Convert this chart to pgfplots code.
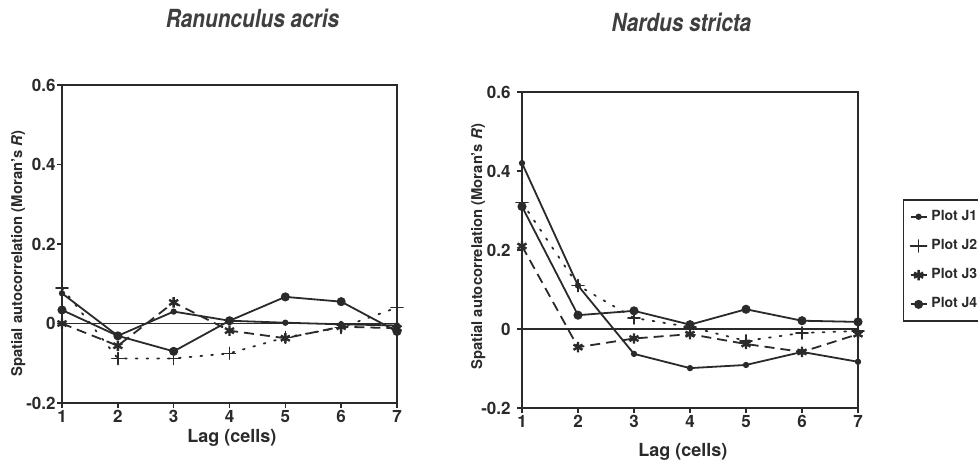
\documentclass[border=0pt]{standalone}
\usepackage{fontspec}
\setmainfont{TeX Gyre Heros}
\usepackage{graphicx}
\usepackage{pgfplots}
\pgfplotsset{compat=1.18}
\definecolor{ink}{HTML}{2A2A2A}

\pgfplotsset{
  panel/.style={
    scale only axis, anchor=south west,
    xmin=1, xmax=7, ymin=-0.2, ymax=0.6,
    xtick={1,2,3,4,5,6,7}, xticklabels={1,2,3,4,5,6,7},
    ytick={-0.2,0,0.2,0.4,0.6}, yticklabels={-0.2,0,0.2,0.4,0.6},
    tick align=outside, tick pos=left, major tick length=2.5pt,
    axis line style={ink, line width=0.9pt},
    every tick/.style={ink, line width=0.8pt},
    tick label style={font=\bfseries\fontsize{8.5}{9}\selectfont, text=ink},
    xticklabel style={inner sep=1pt},
    yticklabel style={inner sep=0.5pt},
    xlabel style={font=\bfseries\fontsize{9}{10}\selectfont, text=ink},
    ylabel style={font=\bfseries\fontsize{7.4}{8}\selectfont, text=ink},
    xlabel={Lag (cells)},
    ylabel={Spatial autocorrelation (Moran's \textit{R})},
    clip=false,
  },
  jone/.style={ink, line width=0.9pt, solid, mark=*, mark size=1.1pt},
  jtwo/.style={ink, line width=0.9pt, dash pattern=on 0.9pt off 4.5pt, line cap=round, mark=+, mark size=3pt, mark options={solid, line width=0.8pt}},
  jthree/.style={ink, line width=0.9pt, dash pattern=on 5pt off 3pt, mark=asterisk, mark size=2.6pt, mark options={solid, line width=1.2pt}},
  jfour/.style={ink, line width=0.9pt, solid, mark=*, mark size=1.8pt},
  zeroline/.style={ink, line width=0.7pt, no marks, forget plot},
}

\begin{document}
\begin{tikzpicture}
\useasboundingbox (0,0) rectangle (489pt,231pt);
\fill[white] (0,0) rectangle (489pt,231pt);
\clip (0,0) rectangle (489pt,231pt);

\node[font=\bfseries\itshape\fontsize{10.4}{12}\selectfont, text=ink!90] at (126.25pt,222pt) {\scalebox{1}[1.2]{Ranunculus acris}};
\node[font=\bfseries\itshape\fontsize{10.4}{12}\selectfont, text=ink!90] at (340.75pt,219.75pt) {\scalebox{1}[1.2]{Nardus stricta}};

% Left panel
\begin{axis}[panel, at={(31pt,29.5pt)}, width=167.5pt, height=159pt,
  xlabel style={at={(axis description cs:0.507,-0.11)}, anchor=center},
  ylabel style={at={(axis description cs:-0.131,0.47)}, anchor=center},
]
\addplot[zeroline] coordinates {(1,0) (7,0)};
\addplot[jone] coordinates {(1,0.076) (2,-0.031) (3,0.030) (4,0.007) (5,0.002) (6,-0.002) (7,-0.005)};
\addplot[jtwo] coordinates {(1,0.090) (2,-0.088) (3,-0.088) (4,-0.075) (5,-0.035) (6,-0.010) (7,0.040)};
\addplot[jthree] coordinates {(1,0.000) (2,-0.056) (3,0.053) (4,-0.018) (5,-0.037) (6,-0.008) (7,-0.012)};
\addplot[jfour] coordinates {(1,0.034) (2,-0.031) (3,-0.070) (4,0.007) (5,0.067) (6,0.055) (7,-0.020)};
\end{axis}

% Right panel
\begin{axis}[panel, at={(261pt,27pt)}, width=168pt, height=158pt,
  xlabel style={at={(axis description cs:0.479,-0.139)}, anchor=center},
  ylabel style={at={(axis description cs:-0.13,0.51)}, anchor=center},
  yticklabel style={inner sep=3pt},
  legend style={at={(1.134,0.66)}, anchor=north west, draw=ink, line width=0.7pt,
    font=\bfseries\fontsize{7}{8}\selectfont, text=ink, row sep=4pt, inner sep=3pt},
  legend cell align=left,
  legend image code/.code={\draw[mark repeat=2,mark phase=2,#1,solid] plot coordinates {(0cm,0cm) (0.14cm,0cm) (0.28cm,0cm)};},
]
\addplot[zeroline] coordinates {(1,0) (7,0)};
\addplot[jone] coordinates {(1,0.420) (2,0.110) (3,-0.063) (4,-0.099) (5,-0.091) (6,-0.058) (7,-0.083)};
\addlegendentry{Plot J1}
\addplot[jtwo] coordinates {(1,0.320) (2,0.110) (3,0.028) (4,0.005) (5,-0.030) (6,-0.010) (7,-0.005)};
\addlegendentry{Plot J2}
\addplot[jthree] coordinates {(1,0.210) (2,-0.046) (3,-0.024) (4,-0.013) (5,-0.038) (6,-0.058) (7,-0.013)};
\addlegendentry{Plot J3}
\addplot[jfour] coordinates {(1,0.310) (2,0.035) (3,0.046) (4,0.011) (5,0.050) (6,0.021) (7,0.018)};
\addlegendentry{Plot J4}
\end{axis}
\end{tikzpicture}
\end{document}
